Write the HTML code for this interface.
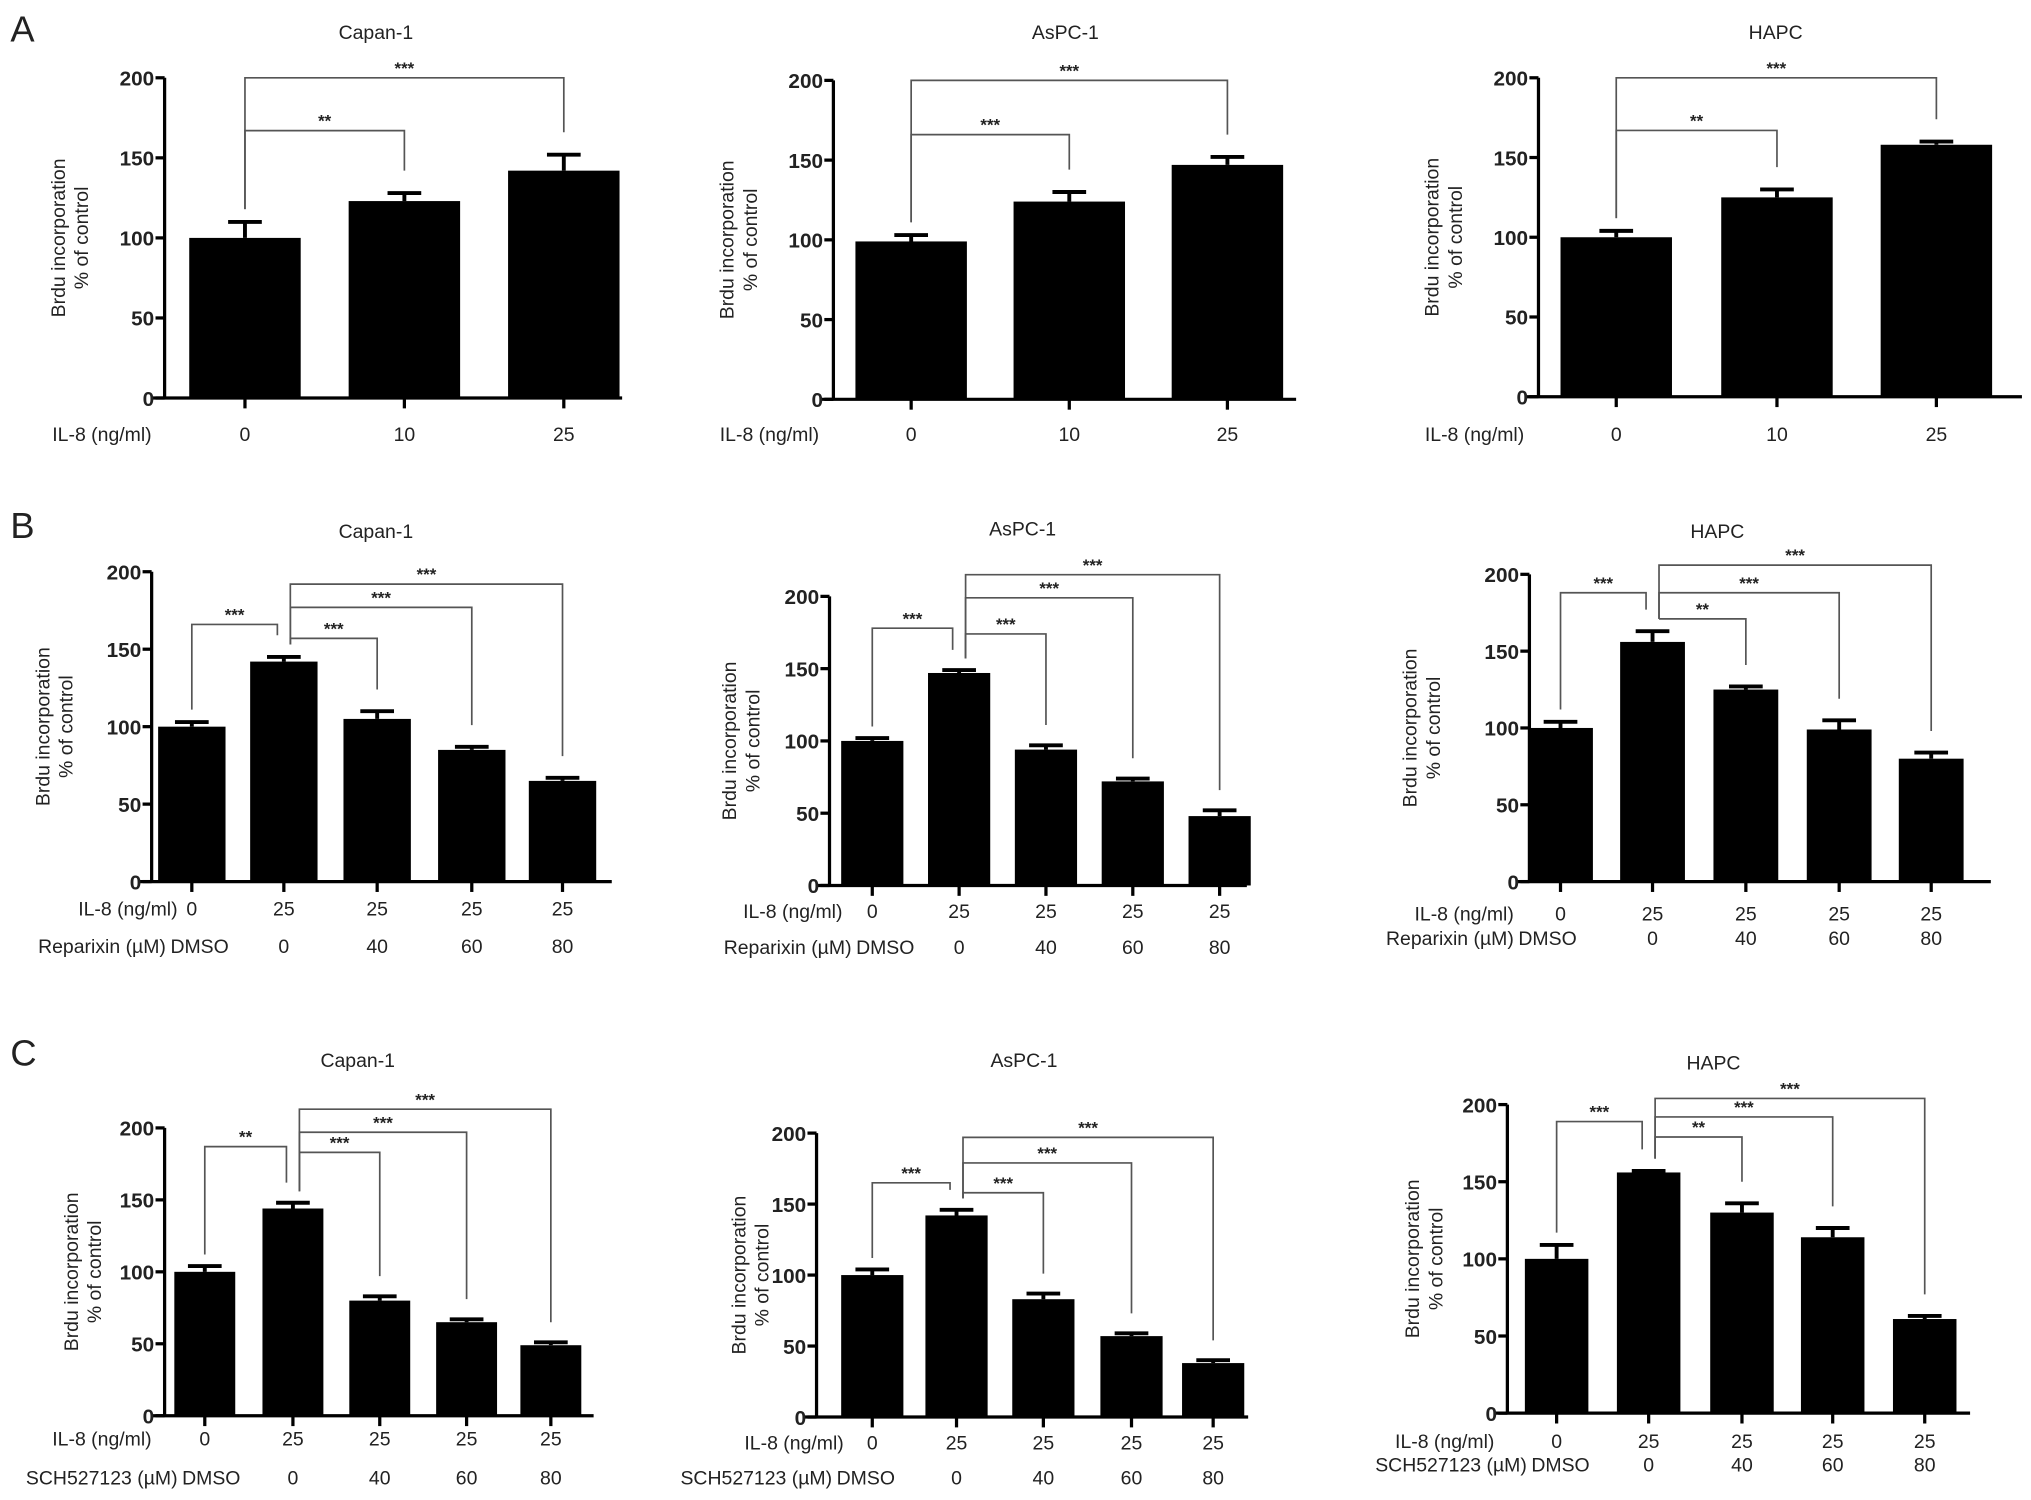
<!DOCTYPE html>
<html><head><meta charset="utf-8"><style>
html,body{margin:0;padding:0;background:#fff}
svg{display:block}
text{font-family:"Liberation Sans",Arial,sans-serif;fill:#222}
</style></head><body>
<svg id="fig" width="2031" height="1500" viewBox="0 0 1567 1157" preserveAspectRatio="none" xmlns="http://www.w3.org/2000/svg">
<text x="8" y="32" font-size="28">A</text>
<text x="8" y="415" font-size="28">B</text>
<text x="8" y="822" font-size="28">C</text>
</svg>
<script>
// ---- data ----
const yTicks = [0, 50, 100, 150, 200];
const a_capan_vals = [100, 123, 142];
const a_capan_errs = [10, 5, 10];
const a_aspc_vals = [99, 124, 147];
const a_aspc_errs = [4, 6, 5];
const a_hapc_vals = [100, 125, 158];
const a_hapc_errs = [4, 5, 2];
const b_capan_vals = [100, 142, 105, 85, 65];
const b_capan_errs = [3, 3, 5, 2, 2];
const b_aspc_vals = [100, 147, 94, 72, 48];
const b_aspc_errs = [2, 2, 3, 2, 4];
const b_hapc_vals = [100, 156, 125, 99, 80];
const b_hapc_errs = [4, 7, 2, 6, 4];
const c_capan_vals = [100, 144, 80, 65, 49];
const c_capan_errs = [4, 4, 3, 2, 2];
const c_aspc_vals = [100, 142, 83, 57, 38];
const c_aspc_errs = [4, 4, 4, 2, 2];
const c_hapc_vals = [100, 156, 130, 114, 61];
const c_hapc_errs = [9, 1, 6, 6, 2];
const il8A = ["0", "10", "25"];
const il8B = ["0", "25", "25", "25", "25"];
const drugB = ["DMSO", "0", "40", "60", "80"];

const NS = "http://www.w3.org/2000/svg";
const svg = document.getElementById('fig');
function mk(tag, attrs, parent, txt) {
  const e = document.createElementNS(NS, tag);
  for (const k in attrs) e.setAttribute(k, attrs[k]);
  if (txt !== undefined) e.textContent = txt;
  (parent || svg).appendChild(e);
  return e;
}

const charts = [
  {id:'a-capan', title:'Capan-1', tx:290, ty:30, ax:127, y200:60, y0:307, xend:480, cx:[189,312,435], bw:86, vals:a_capan_vals, errs:a_capan_errs, row1:il8A, r1y:340, r1lab:'IL-8 (ng/ml)', r1lx:117, br:[[0,1,167,'**'],[0,2,200,'***']], yl:50},
  {id:'a-aspc', title:'AsPC-1', tx:822, ty:30, ax:643, y200:62, y0:308, xend:1000, cx:[703,825,947], bw:86, vals:a_aspc_vals, errs:a_aspc_errs, row1:il8A, r1y:340, r1lab:'IL-8 (ng/ml)', r1lx:632, br:[[0,1,166,'***'],[0,2,200,'***']], yl:566},
  {id:'a-hapc', title:'HAPC', tx:1370, ty:30, ax:1187, y200:60, y0:306, xend:1560, cx:[1247,1371,1494], bw:86, vals:a_hapc_vals, errs:a_hapc_errs, row1:il8A, r1y:340, r1lab:'IL-8 (ng/ml)', r1lx:1176, br:[[0,1,167,'**'],[0,2,200,'***']], yl:1110},
  {id:'b-capan', title:'Capan-1', tx:290, ty:415, ax:117, y200:441, y0:680, xend:472, cx:[148,219,291,364,434], bw:52, vals:b_capan_vals, errs:b_capan_errs, row1:il8B, r1y:706, r1lab:'IL-8 (ng/ml)', r1lx:137, row2:drugB, r2y:735, r2lab:'Reparixin (µM)', r2lx:128, br:[[0,1,166,'***'],[1,2,157,'***'],[1,3,177,'***'],[1,4,192,'***']], yl:38},
  {id:'b-aspc', title:'AsPC-1', tx:789, ty:413, ax:640, y200:460, y0:683, xend:962, cx:[673,740,807,874,941], bw:48, vals:b_aspc_vals, errs:b_aspc_errs, row1:il8B, r1y:708, r1lab:'IL-8 (ng/ml)', r1lx:650, row2:drugB, r2y:736, r2lab:'Reparixin (µM)', r2lx:657, br:[[0,1,178,'***'],[1,2,174,'***'],[1,3,199,'***'],[1,4,215,'***']], yl:568},
  {id:'b-hapc', title:'HAPC', tx:1325, ty:415, ax:1180, y200:443, y0:680, xend:1536, cx:[1204,1275,1347,1419,1490], bw:50, vals:b_hapc_vals, errs:b_hapc_errs, row1:il8B, r1y:710, r1lab:'IL-8 (ng/ml)', r1lx:1168, row2:drugB, r2y:729, r2lab:'Reparixin (µM)', r2lx:1168, br:[[0,1,188,'***'],[1,2,171,'**'],[1,3,188,'***'],[1,4,206,'***']], yl:1093},
  {id:'c-capan', title:'Capan-1', tx:276, ty:823, ax:127, y200:870, y0:1092, xend:458, cx:[158,226,293,360,425], bw:47, vals:c_capan_vals, errs:c_capan_errs, row1:il8B, r1y:1115, r1lab:'IL-8 (ng/ml)', r1lx:117, row2:drugB, r2y:1145, r2lab:'SCH527123 (µM)', r2lx:137, br:[[0,1,187,'**'],[1,2,183,'***'],[1,3,197,'***'],[1,4,213,'***']], yl:60},
  {id:'c-aspc', title:'AsPC-1', tx:790, ty:823, ax:630, y200:874, y0:1093, xend:963, cx:[673,738,805,873,936], bw:48, vals:c_aspc_vals, errs:c_aspc_errs, row1:il8B, r1y:1118, r1lab:'IL-8 (ng/ml)', r1lx:651, row2:drugB, r2y:1145, r2lab:'SCH527123 (µM)', r2lx:642, br:[[0,1,165,'***'],[1,2,158,'***'],[1,3,179,'***'],[1,4,197,'***']], yl:575},
  {id:'c-hapc', title:'HAPC', tx:1322, ty:825, ax:1163, y200:852, y0:1090, xend:1520, cx:[1201,1272,1344,1414,1485], bw:49, vals:c_hapc_vals, errs:c_hapc_errs, row1:il8B, r1y:1117, r1lab:'IL-8 (ng/ml)', r1lx:1153, row2:drugB, r2y:1135, r2lab:'SCH527123 (µM)', r2lx:1178, br:[[0,1,189,'***'],[1,2,179,'**'],[1,3,192,'***'],[1,4,204,'***']], yl:1095}
];

charts.forEach(c => {
  const g = mk('g', {});
  
  
  const yS = v => c.y0 + (c.y200 - c.y0) * v / 200;
  const t = mk('text', {x:c.tx, y:c.ty, 'font-size':15, 'text-anchor':'middle'}, g, c.title);
  
  
  const cy = (c.y0 + c.y200) / 2;
  const yt = mk('text', {x:0, y:0, 'font-size':15, 'text-anchor':'middle', transform:`translate(${c.yl},${cy}) rotate(-90)`}, g);
  
  
  mk('tspan', {x:0, dy:0}, yt, 'Brdu incorporation');
  mk('tspan', {x:0, dy:18}, yt, '% of control');
  c.vals.forEach((v, i) => {
    const x = c.cx[i], top = yS(v), et = yS(v + c.errs[i]);
    const r = mk('rect', {x:x - c.bw/2, y:top, width:c.bw, height:c.y0 - top, fill:'#000'}, g);
    
    
    const e = mk('path', {d:`M${x},${top}V${et}M${x-13},${et}H${x+13}`, stroke:'#000', 'stroke-width':3, fill:'none'}, g);
    
    
  });
  const ax = mk('path', {d:`M${c.ax},${c.y200}V${c.y0}M${c.ax-10},${c.y0}H${c.xend}`, stroke:'#000', 'stroke-width':2.5, fill:'none'}, g);
  
  
  yTicks.forEach(v => {
    mk('path', {d:`M${c.ax-7},${yS(v)}H${c.ax}`, stroke:'#000', 'stroke-width':2.5}, g);
    const tl = mk('text', {x:c.ax - 8, y:yS(v) + 6, 'font-size':16, 'font-weight':'bold', 'text-anchor':'end'}, g, v);
    
    
  });
  c.cx.forEach(x => mk('path', {d:`M${x},${c.y0}V${c.y0+8}`, stroke:'#000', 'stroke-width':2.5}, g));
  const l1 = mk('text', {x:c.r1lx, y:c.r1y, 'font-size':15, 'text-anchor':'end'}, g, c.r1lab);
  
  
  c.row1.forEach((s, i) => {
    const tl = mk('text', {x:c.cx[i], y:c.r1y, 'font-size':15, 'text-anchor':'middle'}, g, s);
    
    
  });
  if (c.row2) {
    const l2 = mk('text', {x:c.r2lx, y:c.r2y, 'font-size':15, 'text-anchor':'end'}, g, c.r2lab);
    
    
    c.row2.forEach((s, i) => {
      let x = c.cx[i];
      if (i === 0) x = c.r2lx + 4 + 22;
      const tl = mk('text', {x:x, y:c.r2y, 'font-size':15, 'text-anchor':'middle'}, g, s);
      
      
    });
  }
  c.br.forEach(b => {
    const [i, j, lv, lab] = b;
    const shiftL = (c.row2 && i === 1) ? 5 : 0;
    const shiftR = (c.row2 && i === 0) ? -5 : 0;
    const x1 = c.cx[i] + shiftL, x2 = c.cx[j] + shiftR;
    const yb = yS(lv);
    const yl1 = yS(c.vals[i] + c.errs[i] + 8);
    const yl2 = yS(c.vals[j] + c.errs[j] + 14);
    const p = mk('path', {d:`M${x1},${yl1}V${yb}H${x2}V${yl2}`, stroke:'#555', 'stroke-width':1.3, fill:'none'}, g);
    
    
    const st = mk('text', {x:(x1 + x2) / 2, y:yb - 3, 'font-size':13, 'font-weight':'bold', 'text-anchor':'middle'}, g, lab);
    
    
  });
});
</script>
</body></html>
